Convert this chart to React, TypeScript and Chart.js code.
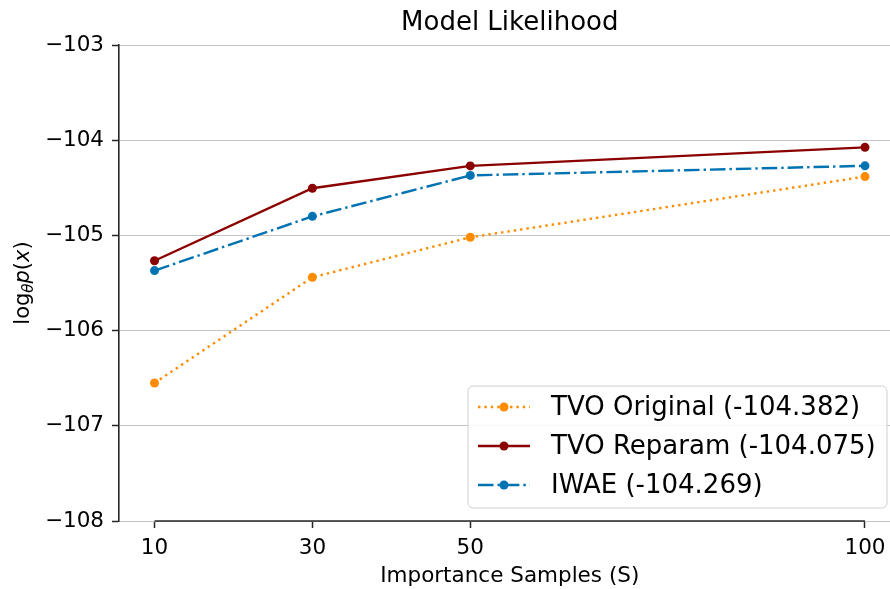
import React, { useEffect, useRef } from "react";
import { Chart, registerables } from "chart.js";

Chart.register(...registerables);

const samples = [10, 30, 50, 100];
const xTickValues = [10, 30, 50, 100];
const yTickValues = [-108, -107, -106, -105, -104, -103];
const tvoOriginal = [-106.55, -105.44, -105.02, -104.382];
const tvoReparam = [-105.266, -104.505, -104.27, -104.075];
const iwae = [-105.37, -104.8, -104.37, -104.269];
const seriesLabels = ["TVO Original (-104.382)", "TVO Reparam (-104.075)", "IWAE (-104.269)"];
const chartTitle = "Model Likelihood";

const FONT = "'DejaVu Sans', sans-serif";
const LW = 2.4;

const spinePlugin = {
  id: "spines",
  afterDraw(chart: any) {
    const ctx = chart.ctx;
    const xs = chart.scales.x;
    const area = chart.chartArea;
    ctx.save();
    // bottom spine trimmed to first/last tick
    ctx.strokeStyle = "#262626";
    ctx.lineWidth = 1.6;
    ctx.beginPath();
    ctx.moveTo(xs.getPixelForValue(xTickValues[0]), area.bottom);
    ctx.lineTo(xs.getPixelForValue(xTickValues[xTickValues.length - 1]), area.bottom);
    ctx.stroke();

    // title centered on the axes
    ctx.fillStyle = "#000";
    ctx.font = `26px ${FONT}`;
    ctx.textAlign = "center";
    ctx.textBaseline = "alphabetic";
    ctx.fillText(chartTitle, (area.left + area.right) / 2, 29.5);

    // y axis label: log_theta p(x)
    const cx = 22;
    const cy = (area.top + area.bottom) / 2;
    ctx.translate(cx, cy);
    ctx.rotate(-Math.PI / 2);
    ctx.textAlign = "left";
    const parts = [
      { t: "log", f: `21px ${FONT}`, dy: 0 },
      { t: "θ", f: `italic 15px ${FONT}`, dy: 4 },
      { t: "p", f: `italic 21px ${FONT}`, dy: 0 },
      { t: "(", f: `21px ${FONT}`, dy: 0 },
      { t: "x", f: `italic 21px ${FONT}`, dy: 0 },
      { t: ")", f: `21px ${FONT}`, dy: 0 },
    ];
    let total = 0;
    for (const p of parts) {
      ctx.font = p.f;
      total += ctx.measureText(p.t).width;
    }
    let x = -total / 2;
    for (const p of parts) {
      ctx.font = p.f;
      ctx.fillText(p.t, x, 7 + p.dy);
      x += ctx.measureText(p.t).width;
    }
    ctx.restore();

    // legend
    const left = area.left + 349;
    const w = 419;
    const right = left + w;
    const bottom = area.bottom - 13;
    const h = 122;
    const top = bottom - h;
    ctx.save();
    ctx.beginPath();
    const r = 5;
    ctx.moveTo(left + r, top);
    ctx.arcTo(right, top, right, bottom, r);
    ctx.arcTo(right, bottom, left, bottom, r);
    ctx.arcTo(left, bottom, left, top, r);
    ctx.arcTo(left, top, right, top, r);
    ctx.closePath();
    ctx.fillStyle = "rgba(255,255,255,0.85)";
    ctx.fill();
    ctx.strokeStyle = "#d0d0d0";
    ctx.lineWidth = 1;
    ctx.stroke();
    chart.data.datasets.forEach((ds: any, i: number) => {
      const y = top + 21 + i * 39;
      ctx.strokeStyle = ds.borderColor;
      ctx.lineWidth = LW;
      ctx.setLineDash(ds.borderDash || []);
      ctx.beginPath();
      ctx.moveTo(left + 10, y);
      ctx.lineTo(left + 62, y);
      ctx.stroke();
      ctx.setLineDash([]);
      ctx.fillStyle = ds.borderColor;
      ctx.beginPath();
      ctx.arc(left + 36, y, 4.5, 0, Math.PI * 2);
      ctx.fill();
      ctx.fillStyle = "#000";
      ctx.font = `26px ${FONT}`;
      ctx.textBaseline = "middle";
      ctx.textAlign = "left";
      ctx.fillText(ds.label, left + 83, y + 1);
    });
    ctx.restore();
  },
};

export default function App() {
  const ref = useRef<HTMLCanvasElement | null>(null);
  useEffect(() => {
    if (!ref.current) return;
    const mk = (label: string, data: number[], color: string, dash: number[]) => ({
      label,
      data: samples.map((s, i) => ({ x: s, y: data[i] })),
      borderColor: color,
      backgroundColor: color,
      borderWidth: LW,
      borderDash: dash,
      pointRadius: 4.5,
      pointHoverRadius: 4.5,
      pointBorderWidth: 0,
      pointBackgroundColor: color,
      tension: 0,
      fill: false,
    });
    const chart = new Chart(ref.current, {
      type: "line",
      data: {
        datasets: [
          mk(seriesLabels[0], tvoOriginal, "#ff8c00", [2.4, 4]),
          mk(seriesLabels[1], tvoReparam, "#8b0000", []),
          mk(seriesLabels[2], iwae, "#0173b2", [15.5, 4, 2.4, 4]),
        ],
      },
      options: {
        animation: false,
        responsive: false,
        devicePixelRatio: 1,
        layout: { padding: { top: 45, left: 0, right: 0, bottom: 0 } },
        plugins: {
          legend: { display: false },
          tooltip: { enabled: false },
          title: { display: false },
        },
        scales: {
          x: {
            type: "linear",
            min: 5.5,
            max: 104.5,
            afterBuildTicks(scale: any) {
              scale.ticks = xTickValues.map((v) => ({ value: v }));
            },
            afterFit(scale: any) {
              scale.height = 68;
            },
            border: { display: false },
            grid: {
              drawOnChartArea: false,
              drawTicks: true,
              tickLength: 7,
              tickColor: "#262626",
              tickWidth: 1.5,
            },
            ticks: {
              color: "#000",
              font: { family: FONT, size: 21.5 },
              padding: 8,
              callback: (v: any) => String(v),
            },
            title: {
              display: true,
              text: "Importance Samples (S)",
              color: "#000",
              font: { family: FONT, size: 21.5 },
              padding: { top: 0, bottom: 0 },
            },
          },
          y: {
            type: "linear",
            min: -108,
            max: -103,
            afterBuildTicks(scale: any) {
              scale.ticks = yTickValues.map((v) => ({ value: v }));
            },
            afterFit(scale: any) {
              scale.width = 119;
            },
            border: { display: true, color: "#262626", width: 1.6 },
            grid: {
              color: "#c4c4c4",
              lineWidth: 1,
              drawTicks: true,
              tickLength: 7,
              tickColor: "#262626",
              tickWidth: 1.5,
            },
            ticks: {
              color: "#000",
              font: { family: FONT, size: 21.5 },
              padding: 8,
              callback: (v: any) => (v < 0 ? "\u2212" + Math.abs(v) : String(v)),
            },
          },
        },
      },
      plugins: [spinePlugin],
    });
    return () => chart.destroy();
  }, []);
  return (
    <div style={{ position: "fixed", left: 0, top: 0, width: 890, height: 589, overflow: "hidden", background: "#fff" }}>
      <canvas ref={ref} width={905} height={589} style={{ width: 905, height: 589, display: "block" }} />
    </div>
  );
}
